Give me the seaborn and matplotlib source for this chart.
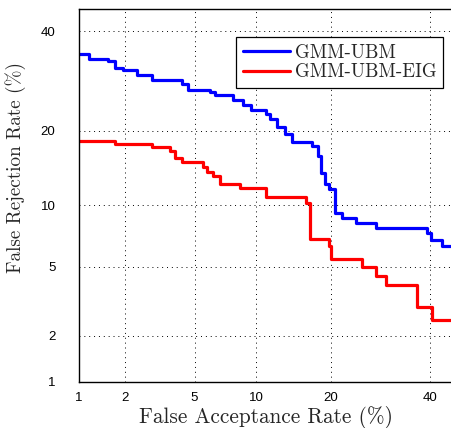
import math
import matplotlib
matplotlib.use("Agg")
import matplotlib.pyplot as plt
import seaborn as sns
import numpy as np
import pandas as pd

# DET curve values, in percent
ubm_far = [1.0, 1.17, 1.56, 1.72, 1.93, 2.36, 2.89, 4.27, 4.6, 6.0, 6.4, 7.8, 8.7, 9.5,
           11.1, 11.5, 12.3, 13.3, 14.2, 17.1, 17.9, 18.5, 19.0, 19.8, 20.8, 22.0,
           24.5, 28.3, 39.2, 40.1, 42.7, 45.0]
ubm_frr = [34.8, 33.7, 33.3, 31.8, 31.4, 30.3, 29.3, 28.5, 27.3, 26.9, 26.4, 25.4, 24.5, 23.6,
           22.9, 22.0, 20.6, 19.5, 18.2, 17.6, 16.1, 13.8, 12.4, 11.8, 9.24, 8.76,
           8.3, 7.86, 7.44, 6.88, 6.35, 6.35]
eig_far = [1.0, 1.72, 2.89, 3.66, 3.91, 4.27, 5.51, 5.78, 6.2, 6.72, 8.39, 11.1, 16.2, 16.8,
           19.8, 20.1, 25.6, 28.3, 30.3, 37.0, 40.4, 45.0]
eig_frr = [18.3, 17.9, 17.4, 16.8, 15.8, 15.2, 14.6, 13.9, 13.3, 12.4, 11.9, 10.9, 10.25, 6.95,
           6.35, 5.45, 4.95, 4.43, 3.96, 2.97, 2.49, 2.49]
tick_vals = [1, 2, 5, 10, 20, 40]
systems = ["GMM-UBM", "GMM-UBM-EIG"]
colors = ["#0000ff", "#ff0000"]


def ppf(p):
    # inverse normal cdf (Acklam approximation), input in percent
    p = np.clip(np.asarray(p, dtype=float) / 100.0, 1e-9, 1 - 1e-9)
    a = [-3.969683028665376e+01, 2.209460984245205e+02, -2.759285104469687e+02,
         1.383577518672690e+02, -3.066479806614716e+01, 2.506628277459239e+00]
    b = [-5.447609879822406e+01, 1.615858368580409e+02, -1.556989798598866e+02,
         6.680131188771972e+01, -1.328068155288572e+01]
    c = [-7.784894002430293e-03, -3.223964580411365e-01, -2.400758277161838e+00,
         -2.549732539343734e+00, 4.374664141464968e+00, 2.938163982698783e+00]
    d = [7.784695709041462e-03, 3.224671290700398e-01, 2.445134137142996e+00,
         3.754408661907416e+00]

    def tail(pp):
        q = np.sqrt(-2 * np.log(pp))
        return (((((c[0]*q+c[1])*q+c[2])*q+c[3])*q+c[4])*q+c[5]) / \
               ((((d[0]*q+d[1])*q+d[2])*q+d[3])*q+1)

    q = p - 0.5
    r = q * q
    mid = (((((a[0]*r+a[1])*r+a[2])*r+a[3])*r+a[4])*r+a[5])*q / \
          (((((b[0]*r+b[1])*r+b[2])*r+b[3])*r+b[4])*r+1)
    lo = tail(p)
    hi = -tail(1 - p)
    return np.where(p < 0.02425, lo, np.where(p > 1 - 0.02425, hi, mid))


_erf = np.vectorize(math.erf)


def cdf(z):
    z = np.asarray(z, dtype=float)
    return 100.0 * 0.5 * (1 + _erf(z / math.sqrt(2)))


df = pd.concat([
    pd.DataFrame({"far": ubm_far, "frr": ubm_frr, "system": systems[0]}),
    pd.DataFrame({"far": eig_far, "frr": eig_frr, "system": systems[1]}),
])

sns.set_theme(style="white")
plt.rcParams["axes.unicode_minus"] = False

fig, ax = plt.subplots(figsize=(4.52, 4.28), dpi=100)
fig.subplots_adjust(left=0.1748, right=1.0, bottom=0.1075, top=0.978)

ax.set_xscale("function", functions=(ppf, cdf))
ax.set_yscale("function", functions=(ppf, cdf))

sns.lineplot(data=df, x="far", y="frr", hue="system", palette=colors,
             estimator=None, sort=False, drawstyle="steps-post", linewidth=2.3, ax=ax)

ax.set_xlim(1, 45)
ax.set_ylim(1, 45)
ax.set_xticks(tick_vals)
ax.set_xticklabels([str(v) for v in tick_vals], family="Liberation Sans", fontsize=9.5)
ax.set_yticks(tick_vals)
ax.set_yticklabels([str(v) for v in tick_vals], family="Liberation Sans", fontsize=9.5)
ax.minorticks_off()
ax.tick_params(axis="both", direction="in", length=3, width=0.6, colors="black")
ax.tick_params(axis="x", pad=7.5)
ax.tick_params(axis="y", pad=17)
ax.grid(True, linestyle=(0, (1, 4)), color="black", linewidth=0.7)
for s in ax.spines.values():
    s.set_color("black")
    s.set_linewidth(1.0)

ax.set_xlabel("False Acceptance Rate (%)", family="cmr10", fontsize=15.3)
ax.set_ylabel("False Rejection Rate (%)", family="cmr10", fontsize=13.8)
ax.xaxis.label.set_va("baseline")
ax.xaxis.set_label_coords(0.5, -0.110)
ax.yaxis.set_label_coords(-0.142, 0.577)

leg = ax.legend(loc="upper right", bbox_to_anchor=(0.976, 0.926), borderaxespad=0,
                prop={"family": "cmr10", "size": 13.6}, frameon=True, fancybox=False,
                framealpha=1, edgecolor="black", handlelength=2.5, borderpad=0.35,
                labelspacing=0.1, handletextpad=0.25)
leg.get_frame().set_linewidth(0.9)
leg.set_title(None)

fig.savefig("out.png", dpi=100)
